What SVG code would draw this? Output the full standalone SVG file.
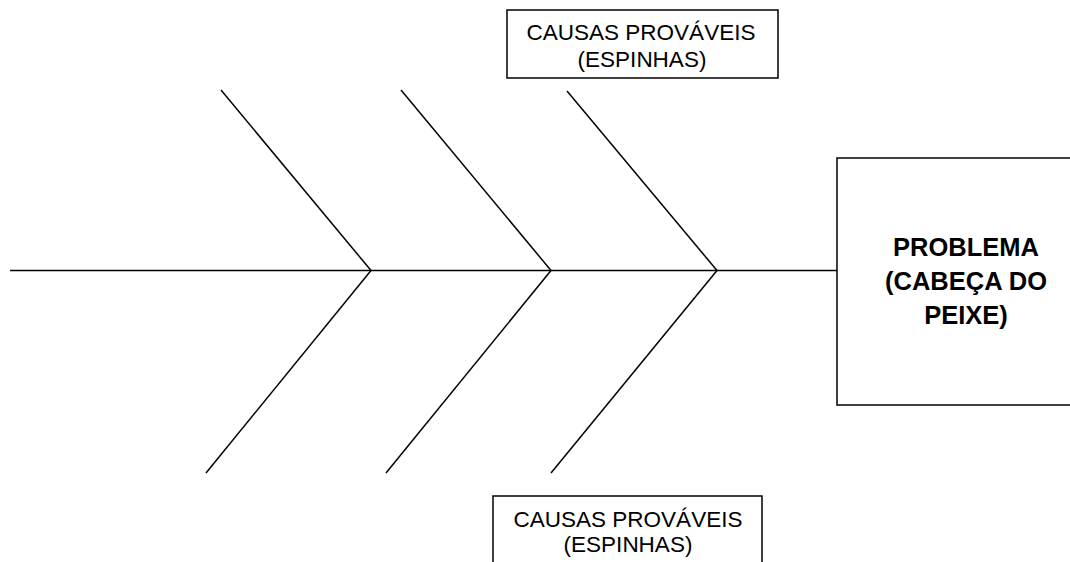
<svg xmlns="http://www.w3.org/2000/svg" width="1070" height="562" viewBox="0 0 1070 562">
  <style>
    .box { fill: #ffffff; stroke: #000000; stroke-width: 1.5; }
    .bone { fill: none; stroke: #000000; stroke-width: 1.5; }
    .cause { font-family: "Liberation Sans", Arial, sans-serif; font-size: 22.5px; fill: #000000; text-anchor: middle; }
    .head { font-family: "Liberation Sans", Arial, sans-serif; font-size: 25.5px; font-weight: bold; fill: #000000; text-anchor: middle; }
  </style>
  <rect width="1070" height="562" fill="#ffffff"/>

  <!-- spine and bones -->
  <g id="connectors">
    <line class="bone" x1="10" y1="270.5" x2="837" y2="270.5"/>
    <line class="bone" x1="221" y1="90" x2="371" y2="270.5"/>
    <line class="bone" x1="401" y1="90" x2="551" y2="270.5"/>
    <line class="bone" x1="567" y1="91" x2="717" y2="270.5"/>
    <line class="bone" x1="371" y1="270.5" x2="206" y2="473"/>
    <line class="bone" x1="551" y1="270.5" x2="386" y2="473"/>
    <line class="bone" x1="717" y1="270.5" x2="551" y2="473"/>
  </g>

  <g id="causes-top">
    <rect class="box" x="507" y="10" width="271" height="68"/>
    <text class="cause" x="641" y="40">CAUSAS PROVÁVEIS</text>
    <text class="cause" x="642" y="67">(ESPINHAS)</text>
  </g>

  <g id="causes-bottom">
    <rect class="box" x="493" y="496" width="269" height="80"/>
    <text class="cause" x="628" y="527">CAUSAS PROVÁVEIS</text>
    <text class="cause" x="628" y="552">(ESPINHAS)</text>
  </g>

  <g id="problem">
    <rect class="box" x="837" y="158" width="250" height="247"/>
    <text class="head" x="966" y="256">PROBLEMA</text>
    <text class="head" x="966" y="290">(CABEÇA DO</text>
    <text class="head" x="966" y="324">PEIXE)</text>
  </g>
</svg>
